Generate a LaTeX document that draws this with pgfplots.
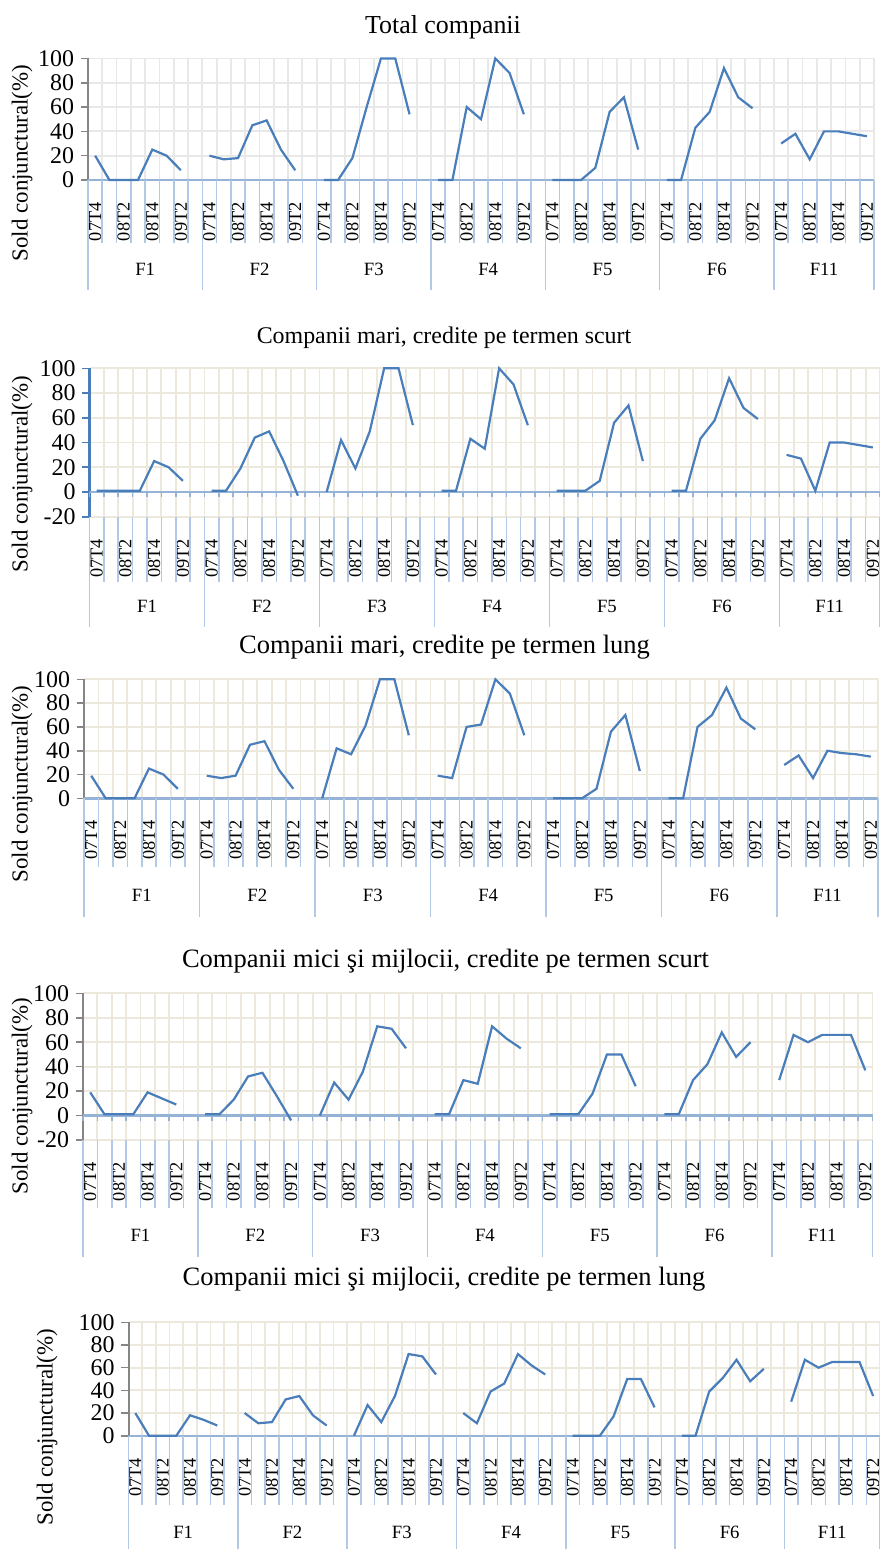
\documentclass[border=0pt]{standalone}
\usepackage{fontspec}
\setmainfont{Liberation Serif}
\usepackage{pgfplots}
\usepackage{pgfplotstable}
\pgfplotsset{compat=1.18}

\definecolor{dblue}{RGB}{74,126,187}
\definecolor{axblue}{RGB}{149,179,215}
\definecolor{tickblue}{RGB}{178,200,230}
\definecolor{axgray}{RGB}{134,134,134}
\definecolor{gridgray}{RGB}{232,232,232}
\definecolor{gridbeige}{RGB}{236,233,220}

% one row per category cell: 8 per group (last one empty), F11 has 7
\pgfplotstableread{
x  p1  p2  p3  p4  p5
0  20  1   19  19  20
1  0   1   0   1   0
2  0   1   0   1   0
3  0   1   0   1   0
4  25  25  25  19  18
5  20  20  20  14  14
6  8   9   8   9   9
7  nan nan nan nan nan
8  20  1   19  1   20
9  17  1   17  1   11
10 18  19  19  13  12
11 45  44  45  32  32
12 49  49  48  35  35
13 25  25  24  16  18
14 8   -3  8   -4  9
15 nan nan nan nan nan
16 0   0   0   0   0
17 0   42  42  27  27
18 18  19  37  13  12
19 60  49  61  36  35
20 100 100 100 73  72
21 100 100 100 71  70
22 54  54  53  55  54
23 nan nan nan nan nan
24 0   1   19  1   20
25 0   1   17  1   11
26 60  43  60  29  39
27 50  35  62  26  46
28 100 100 100 73  72
29 88  87  88  63  62
30 54  54  53  55  54
31 nan nan nan nan nan
32 0   1   0   1   0
33 0   1   0   1   0
34 0   1   0   1   0
35 10  9   8   18  17
36 56  56  56  50  50
37 68  70  70  50  50
38 25  25  23  24  25
39 nan nan nan nan nan
40 0   1   0   1   0
41 0   1   0   1   0
42 43  43  60  29  39
43 56  58  70  42  51
44 92  92  93  68  67
45 68  68  67  48  48
46 59  59  58  60  59
47 nan nan nan nan nan
48 30  30  28  29  30
49 38  27  36  66  67
50 17  1   17  60  60
51 40  40  40  66  65
52 40  40  38  66  65
53 38  38  37  66  65
54 36  36  35  37  35
}\data

\pgfplotsset{
  panel/.style={
    scale only axis, clip=false,
    xmin=-0.5, xmax=54.5, ymax=100,
    axis x line*=bottom, axis y line*=left,
    tick align=outside,
    xtick={0,2,...,54},
    xticklabels={07T4,08T2,08T4,09T2,07T4,08T2,08T4,09T2,07T4,08T2,08T4,09T2,
      07T4,08T2,08T4,09T2,07T4,08T2,08T4,09T2,07T4,08T2,08T4,09T2,07T4,08T2,08T4,09T2},
    xtick style={draw=none},
    minor xtick={-0.5,0.5,...,54.5},
    xminorgrids=true, ymajorgrids=true,
    major tick length=3.5bp,
    ytick={-20,0,...,100},
    ytick style={draw=axgray, line width=0.8bp},
    y axis line style={draw=axgray, line width=1bp},
    x axis line style={draw=axblue, line width=1.2bp},
    extra y ticks={0}, extra y tick labels={},
    extra y tick style={grid=major, major grid style={draw=axblue, line width=1.2bp}},
    xticklabel style={rotate=90, anchor=east, inner xsep=7.5bp, inner ysep=0pt,
      font=\fontsize{9.2}{9.2}\selectfont},
    yticklabel style={font=\fontsize{12}{12}\selectfont},
    /pgf/number format/assume math mode=true,
  },
}

\tikzset{glab/.style={font=\fontsize{9.4}{9.4}\selectfont},
  ttl/.style={anchor=base},
  ylab/.style={rotate=90, font=\fontsize{11.5}{11.5}\selectfont},
  div/.style={draw=tickblue, line width=0.8bp}}

% #1 = ymin, #2 = length of cell dividers, #3 = length of group dividers
\newcommand\dividers[3]{%
  \pgfplotsinvokeforeach{-0.5,0.5,...,54.5}{%
    \draw[div] (axis cs:##1,#1) -- ([yshift=-#2]axis cs:##1,#1);}
  \pgfplotsinvokeforeach{-0.5,7.5,15.5,23.5,31.5,39.5,47.5,54.5}{%
    \draw[div] (axis cs:##1,#1) -- ([yshift=-#3]axis cs:##1,#1);}}

\newcommand\grouplabels[2]{%
  \node[glab, yshift=#2] at (axis cs:3.5,#1) {F1};
  \node[glab, yshift=#2] at (axis cs:11.5,#1) {F2};
  \node[glab, yshift=#2] at (axis cs:19.5,#1) {F3};
  \node[glab, yshift=#2] at (axis cs:27.5,#1) {F4};
  \node[glab, yshift=#2] at (axis cs:35.5,#1) {F5};
  \node[glab, yshift=#2] at (axis cs:43.5,#1) {F6};
  \node[glab, yshift=#2] at (axis cs:51,#1) {F11};}

\newcommand\zeroticks{%
  \pgfplotsinvokeforeach{-0.5,0.5,...,54.5}{%
    \draw[draw=axblue, line width=0.8bp] (axis cs:##1,0) -- ([yshift=-2.5bp]axis cs:##1,0);}}

\begin{document}
\begin{tikzpicture}
\useasboundingbox (0,0) rectangle (440bp,-774.5bp);

% ---- Total companii
\begin{axis}[panel, at={(44bp,-90bp)}, anchor=south west,
  width=393bp, height=60.8bp, ymin=0,
  grid style={draw=gridgray, line width=0.9bp}]
\dividers{0}{31.5bp}{55bp}
\addplot[dblue, line width=1.1bp, unbounded coords=jump] table[x=x, y=p1] {\data};
\grouplabels{0}{-44.5bp}
\end{axis}

% ---- Companii mari, termen scurt
\begin{axis}[panel, at={(44.75bp,-258.35bp)}, anchor=south west,
  width=395.25bp, height=74.2bp, ymin=-20,
  grid style={draw=gridbeige, line width=0.9bp},
  x axis line style={draw=none},
  y axis line style={draw=dblue, line width=1.1bp},
  ytick style={draw=dblue, line width=0.8bp}]
\dividers{-20}{32.5bp}{55bp}
\zeroticks
\addplot[dblue, line width=1.1bp, unbounded coords=jump] table[x=x, y=p2] {\data};
\grouplabels{-20}{-45bp}
\end{axis}

% ---- Companii mari, termen lung
\begin{axis}[panel, at={(42bp,-399.15bp)}, anchor=south west,
  width=397bp, height=59.5bp, ymin=0,
  grid style={draw=gridbeige, line width=0.9bp}]
\dividers{0}{34.5bp}{59.5bp}
\addplot[dblue, line width=1.1bp, unbounded coords=jump] table[x=x, y=p3] {\data};
\grouplabels{0}{-48.5bp}
\end{axis}

% ---- Companii mici si mijlocii, termen scurt
\begin{axis}[panel, at={(41.5bp,-570bp)}, anchor=south west,
  width=394.75bp, height=73.35bp, ymin=-20,
  grid style={draw=gridbeige, line width=0.9bp},
  x axis line style={draw=none}]
\dividers{-20}{34bp}{58.5bp}
\zeroticks
\addplot[dblue, line width=1.1bp, unbounded coords=jump] table[x=x, y=p4] {\data};
\grouplabels{-20}{-47.5bp}
\end{axis}

% ---- Companii mici si mijlocii, termen lung
\begin{axis}[panel, at={(64.25bp,-717.85bp)}, anchor=south west,
  width=375.75bp, height=56.7bp, ymin=0,
  grid style={draw=gridbeige, line width=0.9bp}]
\dividers{0}{34.5bp}{57bp}
\addplot[dblue, line width=1.1bp, unbounded coords=jump] table[x=x, y=p5] {\data};
\grouplabels{0}{-48.5bp}
\end{axis}

% titles
\node[ttl, font=\fontsize{13}{13}\selectfont] at (221.5bp,-16.7bp) {Total companii};
\node[ttl, font=\fontsize{12}{12}\selectfont] at (222bp,-171.5bp) {Companii mari, credite pe termen scurt};
\node[ttl, font=\fontsize{13.3}{13.3}\selectfont] at (222.25bp,-326.5bp) {Companii mari, credite pe termen lung};
\node[ttl, font=\fontsize{13.3}{13.3}\selectfont] at (222.75bp,-483.5bp) {Companii mici şi mijlocii, credite pe termen scurt};
\node[ttl, font=\fontsize{13.3}{13.3}\selectfont] at (222bp,-642.5bp) {Companii mici şi mijlocii, credite pe termen lung};

% y labels
\node[ylab] at (11bp,-81.5bp) {Sold conjunctural(\%)};
\node[ylab] at (11bp,-237bp) {Sold conjunctural(\%)};
\node[ylab] at (11bp,-392bp) {Sold conjunctural(\%)};
\node[ylab] at (11bp,-548bp) {Sold conjunctural(\%)};
\node[ylab] at (23.5bp,-713.5bp) {Sold conjunctural(\%)};
\end{tikzpicture}
\end{document}
